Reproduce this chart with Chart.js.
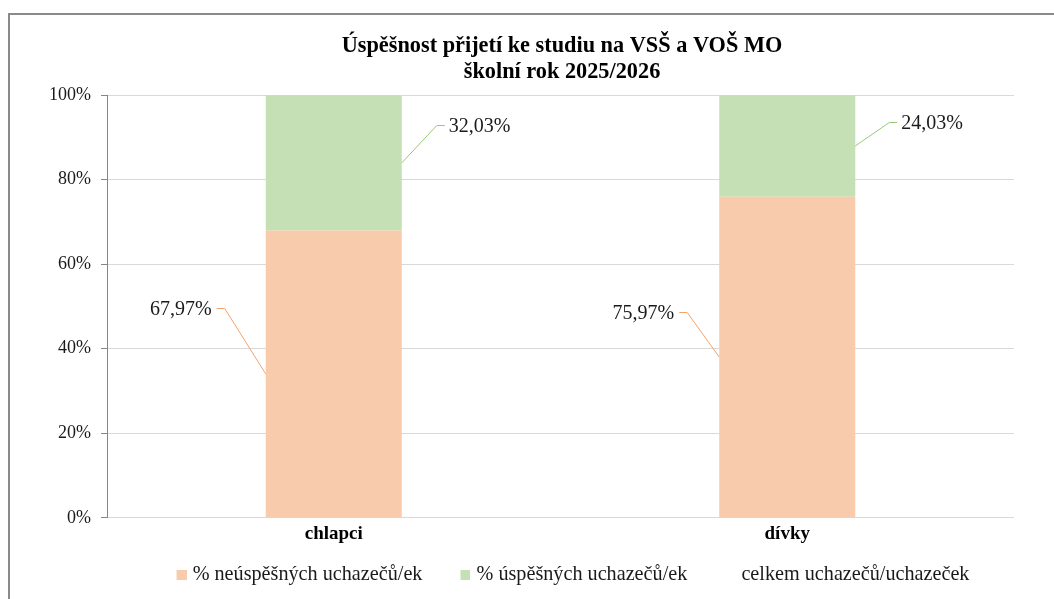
<!DOCTYPE html>
<html lang="cs">
<head>
<meta charset="utf-8">
<title>Úspěšnost přijetí ke studiu na VSŠ a VOŠ MO</title>
<script src="https://cdn.jsdelivr.net/npm/chart.js@4.4.1/dist/chart.umd.min.js"></script>
<style>
  html, body { margin: 0; padding: 0; background: #fff; overflow: hidden; }
  #frame {
    position: absolute; left: 8px; top: 13px; width: 1200px; height: 700px;
    border-left: 2px solid #8a8a8a; border-top: 2px solid #8a8a8a;
  }
  #wrap { position: absolute; left: 0; top: 0; width: 1124px; height: 599px; }
</style>
</head>
<body>
<div id="frame"></div>
<div id="wrap"><canvas id="chart"></canvas></div>
<script>
// --- data ---
const categories = ['chlapci', 'dívky'];
const failedPct = [67.97, 75.97];
const successPct = [32.03, 24.03];
const totalApplicants = [null, null]; // only shows up in the legend
const seriesNames = ['% neúspěšných uchazečů/ek', '% úspěšných uchazečů/ek', 'celkem uchazečů/uchazeček'];
const yTicks = [0, 20, 40, 60, 80, 100];

const FONT = '"Liberation Serif", "Times New Roman", serif';
const seriesColors = ['#F8CBAD', '#C5E0B4', 'rgba(0,0,0,0)'];

// where each value label sits, relative to the middle of its bar piece (px)
const labelOffsets = [
    [[-41, -66], [-32, -45]],
    [[35, -38], [34, -24]]
];
const leaderColors = ['#F2A46E', '#98C878'];

// legend swatch: small square at the right end of a wider transparent strip,
// so the items get Excel-like spacing
function legendSwatch(color) {
    const c = document.createElement('canvas');
    c.width = 36;
    c.height = 10;
    const g = c.getContext('2d');
    g.fillStyle = color;
    g.fillRect(26, 0, 10, 10);
    return c;
}
const swatches = seriesColors.map(legendSwatch);

// Excel-style data labels with leader lines
const leaderLabels = {
    id: 'leaderLabels',
    afterDatasetsDraw(chart) {
        const ctx = chart.ctx;
        [0, 1].forEach(di => {
            const meta = chart.getDatasetMeta(di);
            const values = chart.data.datasets[di].data;
            meta.data.forEach((bar, i) => {
                const onLeft = di === 0;
                const sx = onLeft ? bar.x - bar.width / 2 : bar.x + bar.width / 2;
                const sy = (bar.y + bar.base) / 2;
                const [dx, dy] = labelOffsets[di][i];
                const ex = sx + dx, ey = Math.round(sy + dy) + 0.5;
                const hx = ex + (onLeft ? -8 : 8);

                ctx.save();
                ctx.strokeStyle = leaderColors[di];
                ctx.lineWidth = 1;
                ctx.beginPath();
                ctx.moveTo(sx, sy);
                ctx.lineTo(ex, ey);
                ctx.lineTo(hx, ey);
                ctx.stroke();

                ctx.fillStyle = '#1a1a1a';
                ctx.font = '20px ' + FONT;
                ctx.textBaseline = 'middle';
                ctx.textAlign = onLeft ? 'right' : 'left';
                const txt = values[i].toFixed(2).replace('.', ',') + '%';
                ctx.fillText(txt, hx + (onLeft ? -5 : 4), ey + 1.5);
                ctx.restore();
            });
        });
    }
};

Chart.defaults.font.family = FONT;

new Chart(document.getElementById('chart'), {
    type: 'bar',
    data: {
        labels: categories,
        datasets: [
            { label: seriesNames[0], data: failedPct, backgroundColor: seriesColors[0], yAxisID: 'y' },
            { label: seriesNames[1], data: successPct, backgroundColor: seriesColors[1], yAxisID: 'y' },
            { label: seriesNames[2], data: totalApplicants, backgroundColor: seriesColors[2], yAxisID: 'y2' }
        ]
    },
    options: {
        responsive: true,
        maintainAspectRatio: false,
        animation: false,
        datasets: { bar: { barPercentage: 0.3, categoryPercentage: 1, borderWidth: 0 } },
        layout: { padding: { top: 33, bottom: 4, left: 0, right: 0 } },
        plugins: {
            title: {
                display: true,
                text: ['Úspěšnost přijetí ke studiu na VSŠ a VOŠ MO', 'školní rok 2025/2026'],
                color: '#000',
                font: { size: 22.3, weight: 'bold', lineHeight: 1.17 },
                padding: { top: 0, bottom: 10 }
            },
            legend: {
                position: 'bottom',
                labels: {
                    usePointStyle: true,
                    pointStyleWidth: 28,
                    boxHeight: 10,
                    padding: 16,
                    color: '#1a1a1a',
                    font: { size: 20.2 },
                    generateLabels: chart => Chart.defaults.plugins.legend.labels.generateLabels(chart)
                        .map((item, i) => ({ ...item, pointStyle: swatches[i] }))
                }
            },
            tooltip: { enabled: false }
        },
        scales: {
            x: {
                stacked: true,
                grid: { display: false, drawTicks: false },
                border: { display: false },
                ticks: { color: '#000', padding: 5, font: { size: 19, weight: 'bold' } },
                afterFit: s => { s.height = 31; }
            },
            y: {
                stacked: true,
                position: 'left',
                min: 0,
                max: 100,
                afterBuildTicks: s => { s.ticks = yTicks.map(v => ({ value: v })); },
                ticks: { callback: v => v + '%', color: '#1a1a1a', padding: 10, font: { size: 18 } },
                grid: { color: '#D9D9D9', tickColor: '#868686', tickLength: 6 },
                border: { color: '#868686' },
                afterFit: s => { s.width = 107; }
            },
            y2: {
                position: 'right',
                min: 0,
                max: 1,
                grid: { display: false, drawTicks: false },
                border: { display: false },
                ticks: { display: false },
                afterFit: s => { s.width = 110; }
            }
        }
    },
    plugins: [leaderLabels]
});
</script>
</body>
</html>
